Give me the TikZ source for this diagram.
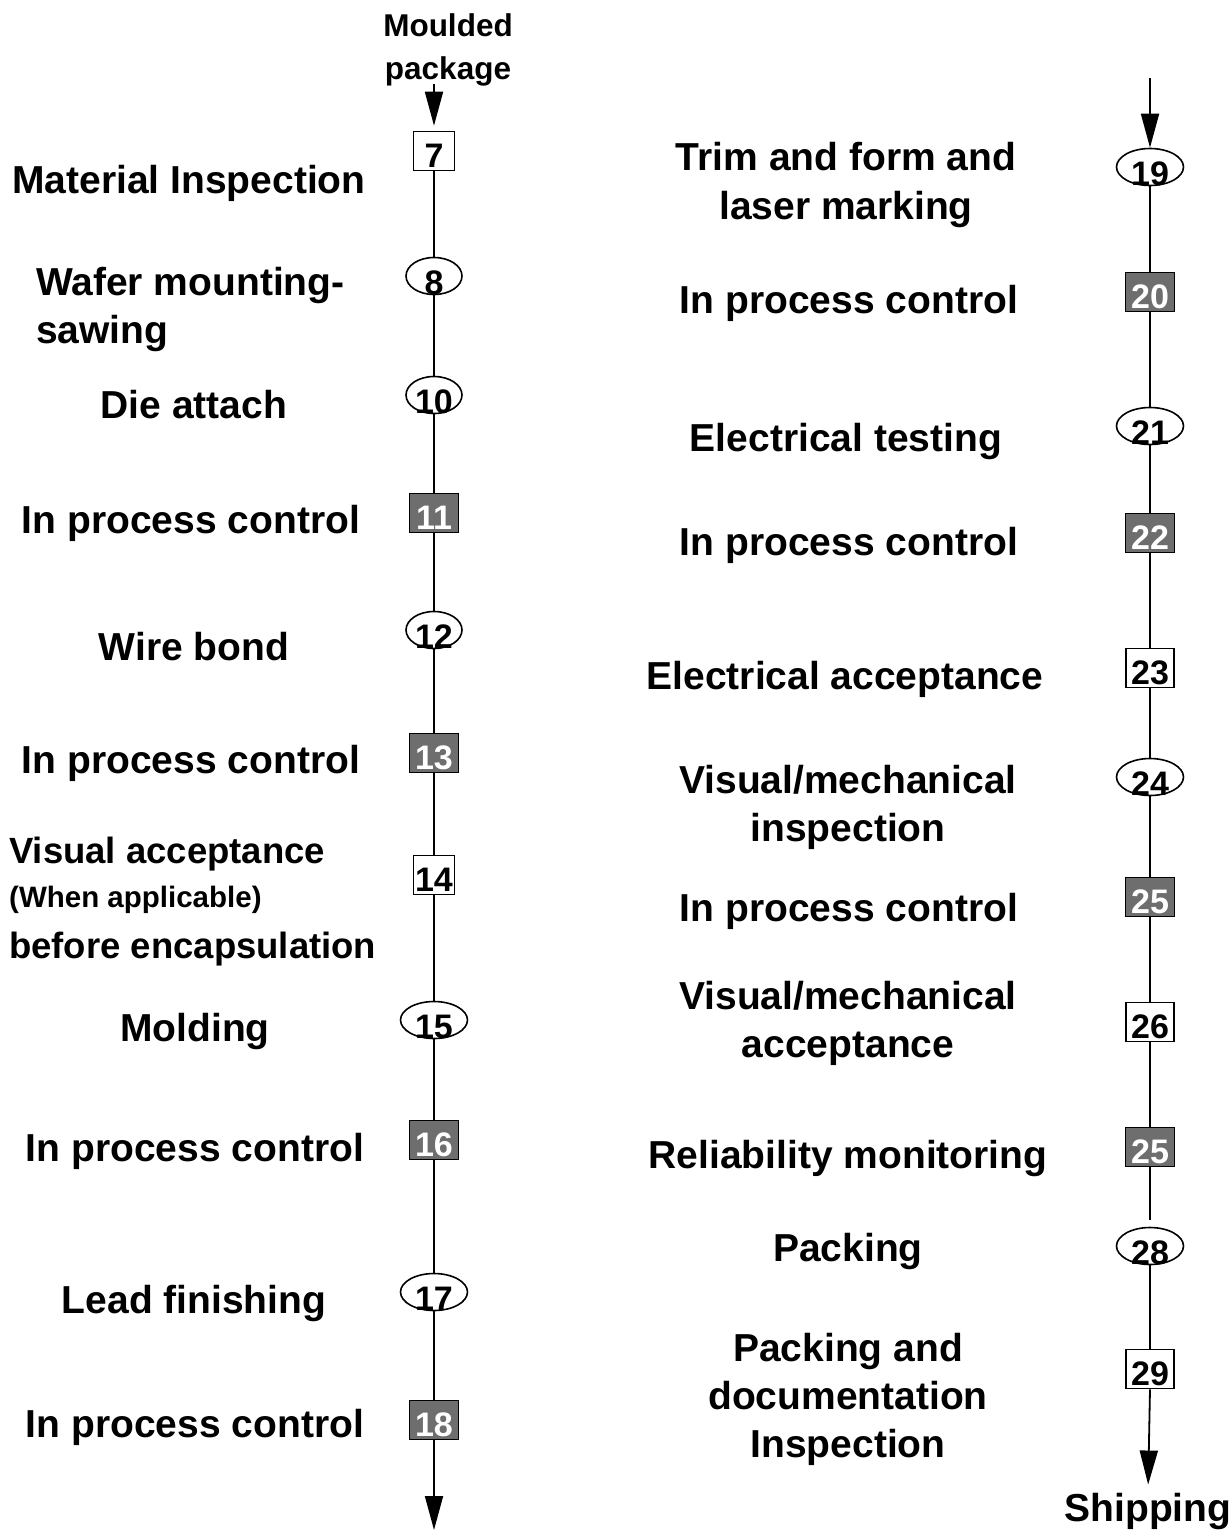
\documentclass[tikz,border=0pt]{standalone}
\usepackage{fontspec}
\setmainfont{Liberation Sans}
\usetikzlibrary{shapes.geometric,arrows.meta}
\definecolor{ipcgray}{HTML}{6E6E6E}
\tikzset{
  flow/.style={line width=1.8pt},
  arr/.style={line width=1.8pt,-{Triangle[width=18pt,length=34pt]}},
  oval/.style={draw,line width=1.6pt,ellipse,minimum width=56pt,minimum height=37pt,inner sep=0pt},
  woval/.style={oval,minimum width=67pt},
  wbox/.style={draw,line width=1.6pt,rectangle,minimum width=41pt,minimum height=39pt,inner sep=0pt},
  wwbox/.style={wbox,minimum width=48pt},
  gbox/.style={draw,line width=1.6pt,rectangle,fill=ipcgray,minimum width=49pt,minimum height=39pt,inner sep=0pt},
  num/.style={inner sep=0pt,font=\fontsize{34}{34}\selectfont\bfseries},
  wnum/.style={num,text=white},
  lbl/.style={inner sep=0pt,align=center,font=\fontsize{39}{48}\selectfont\bfseries},
  lbll/.style={inner sep=0pt,align=left,font=\fontsize{39}{48}\selectfont\bfseries},
}
\begin{document}
\begin{tikzpicture}[x=1pt,y=-1pt]
\useasboundingbox[fill=white] (0,0) rectangle (1229,1531);

% ---- left column: process steps 7 to 18 ----
\node[inner sep=0pt,align=center,font=\fontsize{31.5}{43}\selectfont\bfseries] (mp) at (448,50) {Moulded\\package};
\coordinate (lstart) at (434,84);
\node[wbox] (n7) at (434,151) {};
\node[oval] (n8) at (434,276) {};
\node[oval] (n10) at (434,395) {};
\node[gbox] (n11) at (434,513) {};
\node[oval] (n12) at (434,630) {};
\node[gbox] (n13) at (434,753) {};
\node[wbox] (n14) at (434,875) {};
\node[woval] (n15) at (434,1020) {};
\node[gbox] (n16) at (434,1140) {};
\node[woval] (n17) at (434,1292) {};
\node[gbox] (n18) at (434,1420) {};
\coordinate (lend) at (434,1530);

\draw[arr,shorten >=5pt] (lstart) -- (n7.north);
\draw[flow] (n7) -- (n8) -- (n10) -- (n11) -- (n12) -- (n13) -- (n14) -- (n15) -- (n16) -- (n17) -- (n18);
\draw[arr] (n18.south) -- (lend);

% step numbers, set low in their shapes and on top of the flow line
\node[num] at ([yshift=-5]n7.center) {7};
\node[num] at ([yshift=-7]n8.center) {8};
\node[num] at ([yshift=-7]n10.center) {10};
\node[wnum] at ([yshift=-5]n11.center) {11};
\node[num] at ([yshift=-7]n12.center) {12};
\node[wnum] at ([yshift=-5]n13.center) {13};
\node[num] at ([yshift=-5]n14.center) {14};
\node[num] at ([yshift=-7]n15.center) {15};
\node[wnum] at ([yshift=-5]n16.center) {16};
\node[num] at ([yshift=-7]n17.center) {17};
\node[wnum] at ([yshift=-5]n18.center) {18};

\node[lbl] (l7) at (189,183) {Material Inspection};
\node[lbll,anchor=west] (l8) at (36,309) {Wafer mounting-\\sawing};
\node[lbl] (l10) at (194,405) {Die attach};
\node[lbl] (l11) at (191,523) {In process control};
\node[lbl] (l12) at (194,647) {Wire bond};
\node[lbl] (l13) at (191,763) {In process control};
\node[inner sep=0pt,anchor=west,font=\fontsize{36.5}{44}\selectfont\bfseries] (l14a) at (9,854) {Visual acceptance};
\node[inner sep=0pt,anchor=west,font=\fontsize{29.5}{36}\selectfont\bfseries] (l14b) at (9,900) {(When applicable)};
\node[inner sep=0pt,anchor=west,font=\fontsize{36.5}{44}\selectfont\bfseries] (l14c) at (9,949) {before encapsulation};
\node[lbl] (l15) at (195,1031) {Molding};
\node[lbl] (l16) at (195,1151) {In process control};
\node[lbl] (l17) at (194,1303) {Lead finishing};
\node[lbl] (l18) at (195,1427) {In process control};

% ---- right column: process steps 19 to 29 ----
\coordinate (rstart) at (1150,78);
\node[woval] (n19) at (1150,167) {};
\node[gbox] (n20) at (1150,292) {};
\node[woval] (n21) at (1150,426) {};
\node[gbox] (n22) at (1150,533) {};
\node[wwbox] (n23) at (1150,668) {};
\node[woval] (n24) at (1150,777) {};
\node[gbox] (n25) at (1150,897) {};
\node[wwbox] (n26) at (1150,1022) {};
\node[gbox] (n27) at (1150,1147) {};
\node[woval] (n28) at (1150,1246) {};
\node[wwbox] (n29) at (1150,1369) {};
\node[lbl] (ship) at (1148,1511) {Shipping};
\coordinate (gap) at (1150,1220);

\draw[arr] (rstart) -- (n19.north);
\draw[flow] (n19) -- (n20) -- (n21) -- (n22) -- (n23) -- (n24) -- (n25) -- (n26) -- (n27);
\draw[flow] (n27.south) -- (gap);
\draw[flow] (n28) -- (n29);
\draw[arr,shorten >=8pt] (n29.south) -- (ship.north);

\node[num] at ([yshift=-7]n19.center) {19};
\node[wnum] at ([yshift=-5]n20.center) {20};
\node[num] at ([yshift=-7]n21.center) {21};
\node[wnum] at ([yshift=-5]n22.center) {22};
\node[num] at ([yshift=-5]n23.center) {23};
\node[num] at ([yshift=-7]n24.center) {24};
\node[wnum] at ([yshift=-5]n25.center) {25};
\node[num] at ([yshift=-5]n26.center) {26};
\node[wnum] at ([yshift=-5]n27.center) {25};
\node[num] at ([yshift=-7]n28.center) {28};
\node[num] at ([yshift=-5]n29.center) {29};

\node[lbl] (l19) at (846,185) {Trim and form and\\laser marking};
\node[lbl] (l20) at (849,303) {In process control};
\node[lbl] (l21) at (846,441) {Electrical testing};
\node[lbl] (l22) at (849,545) {In process control};
\node[lbl] (l23) at (845,679) {Electrical acceptance};
\node[lbl] (l24) at (848,807) {Visual/mechanical\\inspection};
\node[lbl] (l25) at (849,911) {In process control};
\node[lbl] (l26) at (848,1023) {Visual/mechanical\\acceptance};
\node[lbl] (l27) at (848,1158) {Reliability monitoring};
\node[lbl] (l28) at (848,1251) {Packing};
\node[lbl] (l29) at (848,1399) {Packing and\\documentation\\Inspection};
\end{tikzpicture}
\end{document}
